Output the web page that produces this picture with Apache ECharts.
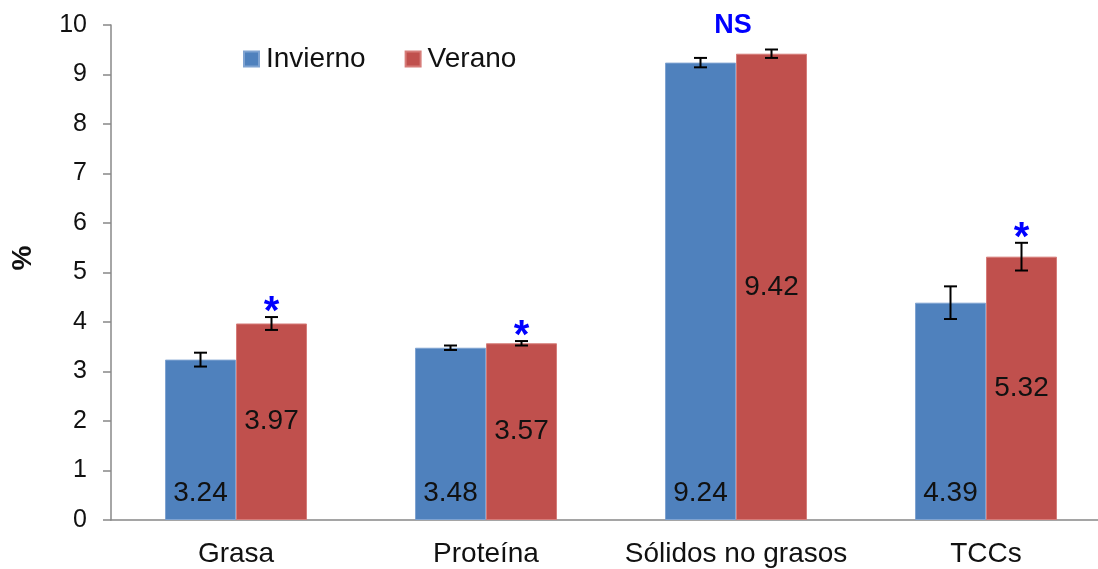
<!DOCTYPE html>
<html>
<head>
<meta charset="utf-8">
<script src="https://cdn.jsdelivr.net/npm/echarts@6/dist/echarts.min.js"></script>
<style>
html,body{margin:0;padding:0;background:#fff;overflow:hidden;}
#chart{width:1098px;height:569px;}
</style>
</head>
<body>
<div id="chart"></div>
<script>
const categories = ['Grasa', 'Proteína', 'Sólidos no grasos', 'TCCs'];
const invierno = [3.24, 3.48, 9.24, 4.39];
const verano = [3.97, 3.57, 9.42, 5.32];
const inviernoErr = [0.14, 0.045, 0.095, 0.33];
const veranoErr = [0.13, 0.045, 0.085, 0.28];
const sigMarks = ['*', '*', 'NS', '*'];
const yMin = 0, yMax = 10, yInterval = 1;
const yAxisTitle = '%';

const FONT = "'Liberation Sans', Arial, sans-serif";
const BAR_W = 71;

function errData(vals, errs) {
  return vals.map((v, i) => [i, v - errs[i], v + errs[i]]);
}

function errRender(offset) {
  return function (params, api) {
    const c = api.value(0);
    const x = api.coord([c, 0])[0] + offset;
    const lo = api.coord([c, api.value(1)])[1];
    const hi = api.coord([c, api.value(2)])[1];
    const cap = 6.5;
    const st = { stroke: '#000', lineWidth: 2 };
    return {
      type: 'group',
      children: [
        { type: 'line', shape: { x1: x, y1: hi, x2: x, y2: lo }, style: st },
        { type: 'line', shape: { x1: x - cap, y1: hi, x2: x + cap, y2: hi }, style: st },
        { type: 'line', shape: { x1: x - cap, y1: lo, x2: x + cap, y2: lo }, style: st }
      ]
    };
  };
}

const sigData = sigMarks.map((m, i) => [i, verano[i] + veranoErr[i], m]);

const chart = echarts.init(document.getElementById('chart'), null, { renderer: 'canvas' });
chart.setOption({
  animation: false,
  backgroundColor: '#fff',
  textStyle: { fontFamily: FONT },
  grid: { left: 111, top: 25, bottom: 49, right: -13, containLabel: false, outerBoundsMode: 'none' },
  legend: {
    data: ['Invierno', 'Verano'],
    left: 243, top: 45, padding: 0,
    icon: 'rect', itemWidth: 15, itemHeight: 15, itemGap: 39,
    textStyle: { fontSize: 28, color: '#111', fontFamily: FONT, padding: [0, 0, 0, 2] }
  },
  graphic: [{
    type: 'text', x: 23, y: 258, rotation: Math.PI / 2,
    style: { text: yAxisTitle, fill: '#111', align: 'center', verticalAlign: 'middle',
             font: 'bold 28px ' + FONT }
  }],
  xAxis: {
    type: 'category',
    data: categories,
    axisLine: { lineStyle: { color: '#888', width: 1.5 } },
    axisTick: { length: 8, lineStyle: { color: '#888', width: 1.5 } },
    axisLabel: { fontSize: 28, color: '#111', margin: 20, interval: 0, fontFamily: FONT }
  },
  yAxis: {
    type: 'value',
    min: yMin, max: yMax, interval: yInterval,
    axisLine: { show: true, lineStyle: { color: '#888', width: 1.5 } },
    axisTick: { show: true, length: 8, lineStyle: { color: '#888', width: 1.5 } },
    splitLine: { show: false },
    axisLabel: { fontSize: 25, color: '#111', margin: 24, fontFamily: FONT }
  },
  series: [
    {
      name: 'Invierno', type: 'bar', data: invierno, barWidth: BAR_W, barGap: '0%',
      itemStyle: { color: '#4F81BD', borderColor: '#7fa3d1', borderWidth: 1 },
      label: { show: true, position: 'insideBottom', distance: 13, fontSize: 28, color: '#111',
               fontFamily: FONT, formatter: p => p.value.toFixed(2) }
    },
    {
      name: 'Verano', type: 'bar', data: verano, barWidth: BAR_W, barGap: '0%',
      itemStyle: { color: '#C0504D', borderColor: '#d67c79', borderWidth: 1 },
      label: { show: true, position: 'inside', fontSize: 28, color: '#111',
               fontFamily: FONT, formatter: p => p.value.toFixed(2) }
    },
    {
      name: 'errInv', type: 'custom', data: errData(invierno, inviernoErr),
      encode: { x: 0, y: [1, 2] }, renderItem: errRender(-BAR_W / 2), z: 5, silent: true
    },
    {
      name: 'errVer', type: 'custom', data: errData(verano, veranoErr),
      encode: { x: 0, y: [1, 2] }, renderItem: errRender(BAR_W / 2), z: 5, silent: true
    },
    {
      name: 'sig', type: 'custom', data: sigData, encode: { x: 0, y: 1 }, z: 6, silent: true,
      renderItem: function (params, api) {
        const c = api.value(0);
        const txt = sigMarks[c];
        const base = api.coord([c, api.value(1)]);
        const isStar = txt === '*';
        const x = isStar ? base[0] + BAR_W / 2 : base[0] - 3;
        const y = isStar ? base[1] - 4 : base[1] - 24;
        return {
          type: 'text', x: x, y: y,
          style: { text: txt, fill: '#0000FF', align: 'center', verticalAlign: 'middle',
                   font: 'bold ' + (isStar ? 40 : 27) + 'px ' + FONT }
        };
      }
    }
  ]
});
</script>
</body>
</html>
